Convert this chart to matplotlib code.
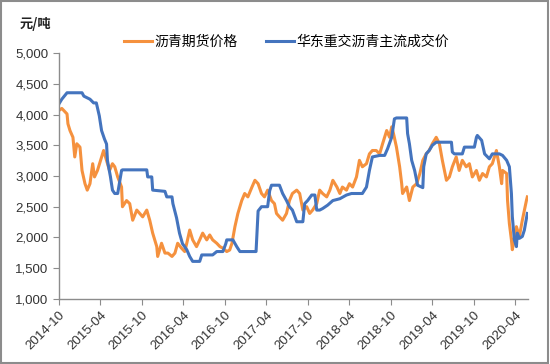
import matplotlib
matplotlib.use("Agg")
import matplotlib.pyplot as plt
from matplotlib.ticker import FuncFormatter
from matplotlib.patches import Rectangle
import pandas as pd

plt.rcParams['font.family'] = ['Noto Sans CJK SC', 'DejaVu Sans']

# 沥青期货价格
futures_dates = [
    '2014-10-01', '2014-10-14', '2014-11-06', '2014-11-10', '2014-11-19', '2014-12-02',
    '2014-12-10', '2014-12-19', '2015-01-02', '2015-01-11', '2015-01-24', '2015-02-03',
    '2015-02-15', '2015-02-27', '2015-03-07', '2015-03-20', '2015-04-07', '2015-04-16',
    '2015-04-29', '2015-05-12', '2015-05-25', '2015-06-04', '2015-06-17', '2015-07-04',
    '2015-07-08', '2015-07-26', '2015-08-09', '2015-08-22', '2015-09-09', '2015-09-22',
    '2015-10-05', '2015-10-23', '2015-11-05', '2015-11-18', '2015-12-06', '2015-12-10',
    '2015-12-27', '2016-01-11', '2016-01-24', '2016-02-11', '2016-02-24', '2016-03-07',
    '2016-03-24', '2016-04-07', '2016-04-16', '2016-04-29', '2016-05-12', '2016-05-29',
    '2016-06-12', '2016-06-25', '2016-07-13', '2016-07-26', '2016-08-08', '2016-08-26',
    '2016-09-09', '2016-09-22', '2016-10-09', '2016-10-22', '2016-11-01', '2016-11-14',
    '2016-11-27', '2016-12-14', '2016-12-27', '2017-01-10', '2017-01-28', '2017-02-10',
    '2017-02-24', '2017-03-11', '2017-03-24', '2017-04-07', '2017-04-24', '2017-05-07',
    '2017-05-16', '2017-05-29', '2017-06-12', '2017-06-29', '2017-07-12', '2017-07-25',
    '2017-08-13', '2017-08-26', '2017-09-09', '2017-09-26', '2017-10-09', '2017-10-22',
    '2017-11-09', '2017-11-22', '2017-12-05', '2017-12-23', '2018-01-06', '2018-01-19',
    '2018-02-06', '2018-02-19', '2018-03-02', '2018-03-20', '2018-04-02', '2018-04-16',
    '2018-05-03', '2018-05-16', '2018-05-29', '2018-06-16', '2018-06-29', '2018-07-12',
    '2018-07-29', '2018-08-13', '2018-08-26', '2018-09-13', '2018-09-26', '2018-10-05',
    '2018-10-13', '2018-10-26', '2018-11-09', '2018-11-18', '2018-11-22', '2018-12-10',
    '2018-12-22', '2019-01-06', '2019-01-23', '2019-02-06', '2019-02-19', '2019-03-06',
    '2019-03-19', '2019-04-02', '2019-04-19', '2019-05-03', '2019-05-16', '2019-06-03',
    '2019-06-16', '2019-06-29', '2019-07-16', '2019-07-29', '2019-08-12', '2019-08-29',
    '2019-09-12', '2019-09-25', '2019-10-13', '2019-10-26', '2019-11-09', '2019-11-26',
    '2019-12-09', '2019-12-22', '2020-01-09', '2020-01-22', '2020-02-01', '2020-02-05',
    '2020-02-23', '2020-02-27', '2020-03-06', '2020-03-15', '2020-03-19', '2020-04-06',
    '2020-04-19', '2020-05-02', '2020-05-20', '2020-05-24',
]
futures_price = [
    4065, 4100, 4010, 3850, 3740, 3630,
    3310, 3525, 3470, 3090, 2875, 2770,
    2875, 3200, 2985, 3090, 3310, 3415,
    3255, 3090, 3200, 3150, 2985, 2820,
    2500, 2600, 2550, 2280, 2445, 2390,
    2335, 2445, 2280, 2070, 1850, 1690,
    1905, 1745, 1745, 1690, 1745, 1905,
    1825, 1770, 1905, 2120, 1960, 1850,
    1960, 2070, 1960, 2040, 1960, 1905,
    1850, 1825, 1770, 1795, 1905, 2175,
    2390, 2600, 2715, 2660, 2820, 2930,
    2875, 2715, 2660, 2770, 2600, 2550,
    2390, 2335, 2280, 2390, 2600, 2715,
    2770, 2715, 2445, 2500, 2390, 2445,
    2550, 2770, 2715, 2660, 2770, 2930,
    2820, 2715, 2820, 2770, 2875, 2820,
    2985, 3255, 3150, 3200, 3360, 3415,
    3415, 3360, 3525, 3740, 3630, 3800,
    3690, 3470, 3150, 2875, 2715, 2820,
    2600, 2820, 2875, 3040, 3255, 3360,
    3415, 3525, 3630, 3525, 3255, 2930,
    2985, 3150, 3310, 3090, 3255, 3150,
    3200, 2985, 3090, 2930, 3040, 2985,
    3150, 3200, 3415, 3150, 2875, 3090,
    3040, 2600, 2225, 1960, 1800, 2175,
    2015, 2280, 2600, 2660,
]

# 华东重交沥青主流成交价
spot_dates = [
    '2014-10-01', '2014-10-14', '2014-11-06', '2015-01-11', '2015-01-19', '2015-02-15',
    '2015-03-03', '2015-03-15', '2015-03-28', '2015-04-07', '2015-04-20', '2015-04-29',
    '2015-05-03', '2015-05-16', '2015-05-25', '2015-06-04', '2015-06-17', '2015-07-04',
    '2015-07-08', '2015-10-23', '2015-10-27', '2015-11-14', '2015-11-18', '2016-01-11',
    '2016-01-19', '2016-02-11', '2016-02-15', '2016-03-02', '2016-03-15', '2016-03-28',
    '2016-04-16', '2016-04-29', '2016-05-12', '2016-06-12', '2016-06-21', '2016-08-08',
    '2016-08-26', '2016-09-22', '2016-10-05', '2016-10-09', '2016-11-05', '2016-11-22',
    '2016-12-06', '2017-02-15', '2017-02-24', '2017-03-11', '2017-04-07', '2017-04-16',
    '2017-04-24', '2017-05-29', '2017-06-12', '2017-06-29', '2017-07-12', '2017-07-25',
    '2017-08-13', '2017-09-09', '2017-09-17', '2017-09-30', '2017-10-18', '2017-11-01',
    '2017-11-09', '2017-11-22', '2017-12-05', '2017-12-27', '2018-01-19', '2018-02-19',
    '2018-03-20', '2018-04-11', '2018-05-29', '2018-06-16', '2018-06-29', '2018-07-12',
    '2018-08-13', '2018-09-04', '2018-09-17', '2018-10-05', '2018-10-17', '2018-10-26',
    '2018-12-10', '2018-12-14', '2018-12-22', '2019-01-01', '2019-01-14', '2019-01-27',
    '2019-02-19', '2019-02-23', '2019-03-06', '2019-03-19', '2019-04-02', '2019-04-19',
    '2019-06-25', '2019-06-29', '2019-07-08', '2019-08-12', '2019-08-21', '2019-10-04',
    '2019-10-13', '2019-10-17', '2019-11-05', '2019-11-18', '2019-12-09', '2019-12-22',
    '2020-01-22', '2020-02-05', '2020-02-23', '2020-03-06', '2020-03-15', '2020-03-19',
    '2020-03-28', '2020-04-06', '2020-04-10', '2020-04-19', '2020-05-02', '2020-05-11',
    '2020-05-24',
]
spot_price = [
    4171, 4250, 4355, 4355, 4300, 4250,
    4190, 4190, 3980, 3740, 3600, 3520,
    3250, 2990, 2770, 2715, 2715, 3090,
    3100, 3100, 2985, 2985, 2770, 2750,
    2660, 2660, 2550, 2320, 2070, 1900,
    1800, 1690, 1610, 1610, 1715, 1715,
    1770, 1770, 1900, 1960, 1960, 1850,
    1770, 1770, 2430, 2500, 2500, 2760,
    2850, 2850, 2715, 2600, 2500, 2445,
    2255, 2255, 2550, 2600, 2690, 2690,
    2445, 2445, 2470, 2525, 2600, 2630,
    2690, 2715, 2715, 2820, 3090, 3310,
    3335, 3335, 3445, 3630, 3930, 3945,
    3945, 3690, 3525, 3255, 3090, 2850,
    2810, 3150, 3360, 3415, 3500, 3550,
    3550, 3390, 3360, 3360, 3470, 3470,
    3630, 3660, 3580, 3360, 3280, 3360,
    3360, 3335, 3255, 3150, 2715, 2340,
    1960, 1850, 2070, 1985, 2015, 2120,
    2390,
]

tick_labels = ['2014-10', '2015-04', '2015-10', '2016-04', '2016-10', '2017-04',
               '2017-10', '2018-04', '2018-10', '2019-04', '2019-10', '2020-04']

fig = plt.figure(figsize=(5.5, 3.64), dpi=100)
ax = fig.add_axes([0.107, 0.179, 0.853, 0.675])

ax.plot(pd.to_datetime(futures_dates), futures_price, color='#F5913E', lw=2.2,
        label='沥青期货价格')
ax.plot(pd.to_datetime(spot_dates), spot_price, color='#4474BE', lw=2.2,
        label='华东重交沥青主流成交价')

ax.set_ylim(1000, 5000)
ax.set_yticks(range(1000, 5001, 500))
ax.yaxis.set_major_formatter(FuncFormatter(lambda v, p: f'{int(v):,}'))
ax.set_xlim(pd.Timestamp('2014-10-01'), pd.Timestamp('2020-05-27'))
ax.set_xticks(pd.to_datetime([t + '-01' for t in tick_labels]))
ax.set_xticklabels(tick_labels, rotation=45, ha='right', rotation_mode='anchor')

for s in ['top', 'right']:
    ax.spines[s].set_visible(False)
for s in ['left', 'bottom']:
    ax.spines[s].set_color('#8c8c8c')
    ax.spines[s].set_linewidth(1.0)
ax.tick_params(colors='#8c8c8c', labelcolor='#333333', labelsize=9.5, length=4)
for lab in ax.get_xticklabels() + ax.get_yticklabels():
    lab.set_family(['Liberation Sans', 'DejaVu Sans'])

fig.text(0.036, 0.922, '元/吨', fontsize=9.5, fontweight='bold', color='#222222')
fig.legend(loc='center', bbox_to_anchor=(0.521, 0.885), ncol=2, frameon=False,
           fontsize=10, handlelength=2.0, columnspacing=2.1, handletextpad=0.15)

fig.add_artist(Rectangle((0.002, 0.003), 0.995, 0.993, transform=fig.transFigure,
                         fill=False, edgecolor='#8c8c8c', lw=1.5))

fig.savefig('out.png', dpi=100)
